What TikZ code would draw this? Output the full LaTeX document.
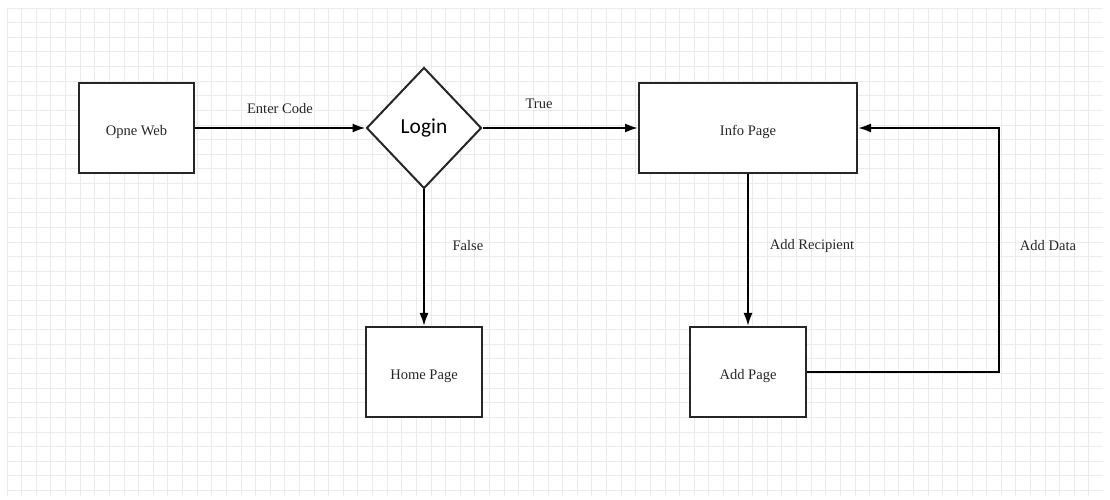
\documentclass[tikz,border=0pt]{standalone}
\usepackage{fontspec}
\setmainfont{Liberation Serif}
\newfontfamily\loginfont{Carlito}
\usetikzlibrary{shapes.geometric,arrows.meta}
\begin{document}
\begin{tikzpicture}[x=1bp,y=-1bp,
  box/.style={draw=black!85,line width=2bp,fill=white,rectangle,inner sep=0pt,
    text height=18bp,text depth=3.2bp,
    font=\fontsize{14.6}{16}\selectfont,text=black!85},
  decision/.style={draw=black!85,line width=2bp,fill=white,diamond,aspect=0.95,inner sep=0pt,
    minimum width=115bp,minimum height=121bp,font=\loginfont\fontsize{21.5}{24}\selectfont},
  flow/.style={draw=black,line width=2bp,-{Latex[length=13bp,width=9bp]}},
  lbl/.style={font=\fontsize{14.6}{16}\selectfont,text=black!85,inner sep=0pt},
  gridline/.style={draw=black!8,line width=0.8bp}]
\useasboundingbox (0,0) rectangle (1110,500);
\fill[white] (0,0) rectangle (1110,500);
% background grid
\foreach \i in {0,...,74} {
  \draw[gridline] ({7+14.62*\i},8) -- ({7+14.62*\i},496);
}
\foreach \j in {0,...,33} {
  \draw[gridline] (7,{8+14.62*\j}) -- (1103,{8+14.62*\j});
}
% nodes
\node[box,minimum width=115bp,minimum height=90bp] (web) at (136.5,128) {Opne Web};
\node[decision] (login) at (424,128) {Login};
\node[box,minimum width=218bp,minimum height=90bp] (info) at (748,128) {Info Page};
\node[box,minimum width=116bp,minimum height=90bp] (home) at (424,372) {Home Page};
\node[box,minimum width=116bp,minimum height=90bp] (add) at (748,372) {Add Page};
\coordinate (turn) at (999,372);
% connectors
\draw[flow] (web.east) -- (login.west);
\draw[flow] (login.east) -- (info.west);
\draw[flow] (login.south) -- (home.north);
\draw[flow] (info.south) -- (add.north);
\draw[flow] (add.east) -- (turn) |- (info.east);
% labels
\node[lbl] (lenter) at (280,109) {Enter Code};
\node[lbl] (ltrue) at (539,104) {True};
\node[lbl] (lfalse) at (468,246) {False};
\node[lbl] (lrec) at (812,246) {Add Recipient};
\node[lbl] (ldata) at (1048,246) {Add Data};
\end{tikzpicture}
\end{document}
